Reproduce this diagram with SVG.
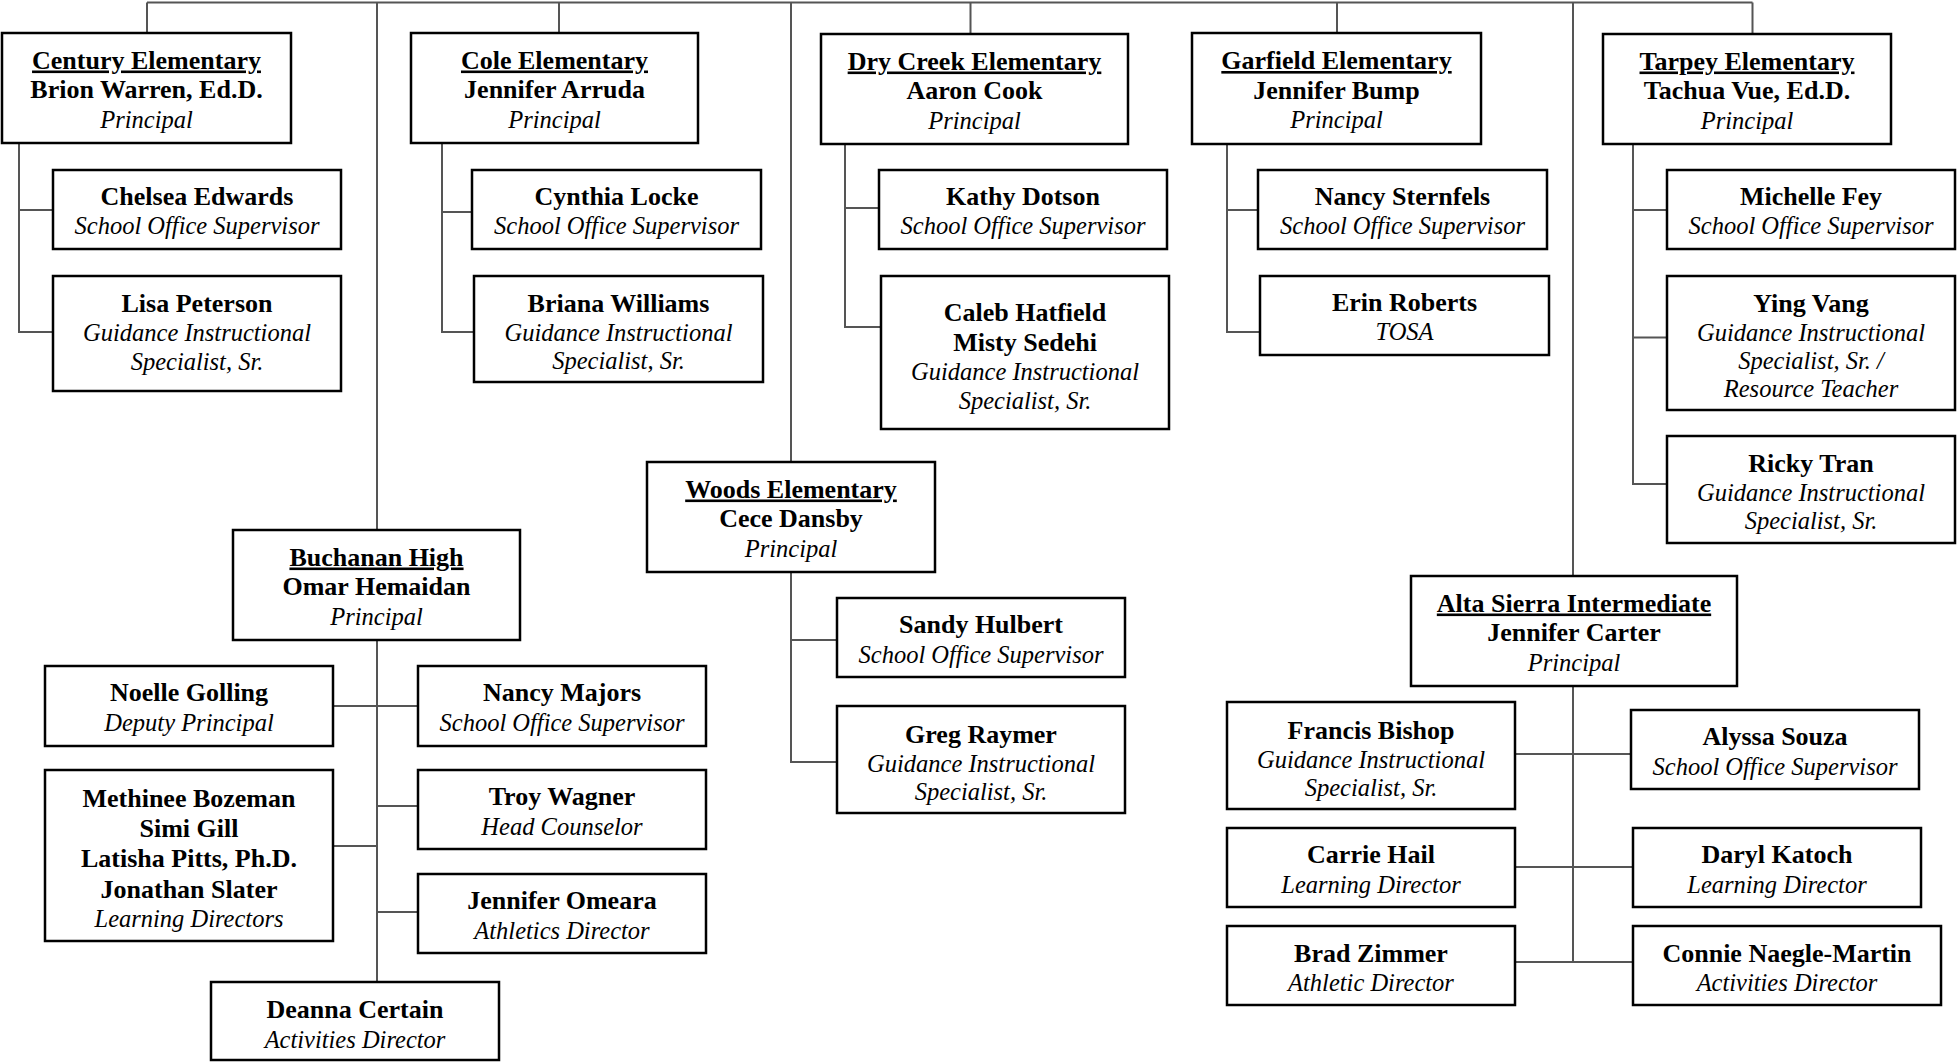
<svg xmlns="http://www.w3.org/2000/svg" width="1959" height="1062" viewBox="0 0 1959 1062">
<style>
.box{fill:#fff;stroke:#000;stroke-width:2.5}
text{font-family:"Liberation Serif","Times New Roman",serif;text-anchor:middle;fill:#000}
.b{font-weight:bold;font-size:26px}
.i{font-style:italic;font-size:24.5px}
.u{text-decoration:underline;text-decoration-thickness:2.5px}
.ln{fill:none;stroke:#555;stroke-width:2}
</style>
<rect width="1959" height="1062" fill="#fff"/>
<g id="connectors" class="ln">
<path d="M147,2.5H1752.5"/>
<path d="M147,2.5V33M377,2.5V530M559,2.5V33M791,2.5V462M970.5,2.5V34M1337,2.5V33M1573,2.5V576M1752.5,2.5V34"/>
<path d="M19,143V332H53M19,210H53"/>
<path d="M442,143V332H474M442,212H472"/>
<path d="M845,144V327H881M845,208H879"/>
<path d="M1227,144V332H1260M1227,210H1258"/>
<path d="M1633,144V484H1667M1633,210H1667M1633,337.5H1667"/>
<path d="M791,572V762H837M791,640H837"/>
<path d="M377,640V982M333,706H418M333,846H377M377,806H418M377,912H418"/>
<path d="M1573,686V962M1515,754H1631M1515,867H1633M1515,962H1633"/>
</g>
<g id="century"><rect class="box" x="2" y="33" width="289" height="110"/>
<text x="146.5" y="68.5" class="b u">Century Elementary</text><text x="146.5" y="98" class="b">Brion Warren, Ed.D.</text><text x="146.5" y="127.5" class="i">Principal</text></g>
<g id="cole"><rect class="box" x="411" y="33" width="287" height="110"/>
<text x="554.5" y="68.5" class="b u">Cole Elementary</text><text x="554.5" y="98" class="b">Jennifer Arruda</text><text x="554.5" y="127.5" class="i">Principal</text></g>
<g id="drycreek"><rect class="box" x="821" y="34" width="307" height="110"/>
<text x="974.5" y="69.5" class="b u">Dry Creek Elementary</text><text x="974.5" y="99" class="b">Aaron Cook</text><text x="974.5" y="128.5" class="i">Principal</text></g>
<g id="garfield"><rect class="box" x="1192" y="33" width="289" height="111"/>
<text x="1336.5" y="69" class="b u">Garfield Elementary</text><text x="1336.5" y="98.5" class="b">Jennifer Bump</text><text x="1336.5" y="128" class="i">Principal</text></g>
<g id="tarpey"><rect class="box" x="1603" y="34" width="288" height="110"/>
<text x="1747" y="69.5" class="b u">Tarpey Elementary</text><text x="1747" y="99" class="b">Tachua Vue, Ed.D.</text><text x="1747" y="128.5" class="i">Principal</text></g>
<g id="chelsea"><rect class="box" x="53" y="170" width="288" height="79"/>
<text x="197" y="204.5" class="b">Chelsea Edwards</text><text x="197" y="234" class="i">School Office Supervisor</text></g>
<g id="lisa"><rect class="box" x="53" y="276" width="288" height="115"/>
<text x="197" y="312" class="b">Lisa Peterson</text><text x="197" y="341" class="i">Guidance Instructional</text><text x="197" y="370" class="i">Specialist, Sr.</text></g>
<g id="cynthia"><rect class="box" x="472" y="170" width="289" height="79"/>
<text x="616.5" y="204.5" class="b">Cynthia Locke</text><text x="616.5" y="234" class="i">School Office Supervisor</text></g>
<g id="briana"><rect class="box" x="474" y="276" width="289" height="106"/>
<text x="618.5" y="311.5" class="b">Briana Williams</text><text x="618.5" y="340.5" class="i">Guidance Instructional</text><text x="618.5" y="368.5" class="i">Specialist, Sr.</text></g>
<g id="kathy"><rect class="box" x="879" y="170" width="288" height="79"/>
<text x="1023" y="204.5" class="b">Kathy Dotson</text><text x="1023" y="234" class="i">School Office Supervisor</text></g>
<g id="caleb"><rect class="box" x="881" y="276" width="288" height="153"/>
<text x="1025" y="320.5" class="b">Caleb Hatfield</text><text x="1025" y="350.5" class="b">Misty Sedehi</text><text x="1025" y="379.5" class="i">Guidance Instructional</text><text x="1025" y="408.5" class="i">Specialist, Sr.</text></g>
<g id="sternfels"><rect class="box" x="1258" y="170" width="289" height="79"/>
<text x="1402.5" y="204.5" class="b">Nancy Sternfels</text><text x="1402.5" y="234" class="i">School Office Supervisor</text></g>
<g id="erin"><rect class="box" x="1260" y="276" width="289" height="79"/>
<text x="1404.5" y="310.5" class="b">Erin Roberts</text><text x="1404.5" y="340" class="i">TOSA</text></g>
<g id="michelle"><rect class="box" x="1667" y="170" width="288" height="79"/>
<text x="1811" y="204.5" class="b">Michelle Fey</text><text x="1811" y="234" class="i">School Office Supervisor</text></g>
<g id="ying"><rect class="box" x="1667" y="276" width="288" height="134"/>
<text x="1811" y="311.5" class="b">Ying Vang</text><text x="1811" y="340.5" class="i">Guidance Instructional</text><text x="1811" y="368.5" class="i">Specialist, Sr. /</text><text x="1811" y="396.5" class="i">Resource Teacher</text></g>
<g id="ricky"><rect class="box" x="1667" y="436" width="288" height="107"/>
<text x="1811" y="471.5" class="b">Ricky Tran</text><text x="1811" y="500.5" class="i">Guidance Instructional</text><text x="1811" y="528.5" class="i">Specialist, Sr.</text></g>
<g id="woods"><rect class="box" x="647" y="462" width="288" height="110"/>
<text x="791" y="497.5" class="b u">Woods Elementary</text><text x="791" y="527" class="b">Cece Dansby</text><text x="791" y="556.5" class="i">Principal</text></g>
<g id="sandy"><rect class="box" x="837" y="598" width="288" height="79"/>
<text x="981" y="633" class="b">Sandy Hulbert</text><text x="981" y="662.5" class="i">School Office Supervisor</text></g>
<g id="greg"><rect class="box" x="837" y="706" width="288" height="107"/>
<text x="981" y="742.5" class="b">Greg Raymer</text><text x="981" y="771.5" class="i">Guidance Instructional</text><text x="981" y="799.5" class="i">Specialist, Sr.</text></g>
<g id="buchanan"><rect class="box" x="233" y="530" width="287" height="110"/>
<text x="376.5" y="565.5" class="b u">Buchanan High</text><text x="376.5" y="595" class="b">Omar Hemaidan</text><text x="376.5" y="624.5" class="i">Principal</text></g>
<g id="noelle"><rect class="box" x="45" y="666" width="288" height="80"/>
<text x="189" y="701" class="b">Noelle Golling</text><text x="189" y="730.5" class="i">Deputy Principal</text></g>
<g id="majors"><rect class="box" x="418" y="666" width="288" height="80"/>
<text x="562" y="701" class="b">Nancy Majors</text><text x="562" y="730.5" class="i">School Office Supervisor</text></g>
<g id="learning"><rect class="box" x="45" y="770" width="288" height="171"/>
<text x="189" y="806.5" class="b">Methinee Bozeman</text><text x="189" y="836.5" class="b">Simi Gill</text><text x="189" y="867" class="b">Latisha Pitts, Ph.D.</text><text x="189" y="897.5" class="b">Jonathan Slater</text><text x="189" y="926.5" class="i">Learning Directors</text></g>
<g id="troy"><rect class="box" x="418" y="770" width="288" height="79"/>
<text x="562" y="805" class="b">Troy Wagner</text><text x="562" y="834.5" class="i">Head Counselor</text></g>
<g id="omeara"><rect class="box" x="418" y="874" width="288" height="79"/>
<text x="562" y="909" class="b">Jennifer Omeara</text><text x="562" y="938.5" class="i">Athletics Director</text></g>
<g id="deanna"><rect class="box" x="211" y="982" width="288" height="78"/>
<text x="355" y="1018" class="b">Deanna Certain</text><text x="355" y="1047.5" class="i">Activities Director</text></g>
<g id="alta"><rect class="box" x="1411" y="576" width="326" height="110"/>
<text x="1574" y="611.5" class="b u">Alta Sierra Intermediate</text><text x="1574" y="641" class="b">Jennifer Carter</text><text x="1574" y="670.5" class="i">Principal</text></g>
<g id="francis"><rect class="box" x="1227" y="702" width="288" height="107"/>
<text x="1371" y="738.5" class="b">Francis Bishop</text><text x="1371" y="767.5" class="i">Guidance Instructional</text><text x="1371" y="795.5" class="i">Specialist, Sr.</text></g>
<g id="alyssa"><rect class="box" x="1631" y="710" width="288" height="79"/>
<text x="1775" y="745" class="b">Alyssa Souza</text><text x="1775" y="774.5" class="i">School Office Supervisor</text></g>
<g id="carrie"><rect class="box" x="1227" y="828" width="288" height="79"/>
<text x="1371" y="863" class="b">Carrie Hail</text><text x="1371" y="892.5" class="i">Learning Director</text></g>
<g id="daryl"><rect class="box" x="1633" y="828" width="288" height="79"/>
<text x="1777" y="863" class="b">Daryl Katoch</text><text x="1777" y="892.5" class="i">Learning Director</text></g>
<g id="brad"><rect class="box" x="1227" y="926" width="288" height="79"/>
<text x="1371" y="961.5" class="b">Brad Zimmer</text><text x="1371" y="991" class="i">Athletic Director</text></g>
<g id="connie"><rect class="box" x="1633" y="926" width="308" height="79"/>
<text x="1787" y="961.5" class="b">Connie Naegle-Martin</text><text x="1787" y="991" class="i">Activities Director</text></g>
</svg>
